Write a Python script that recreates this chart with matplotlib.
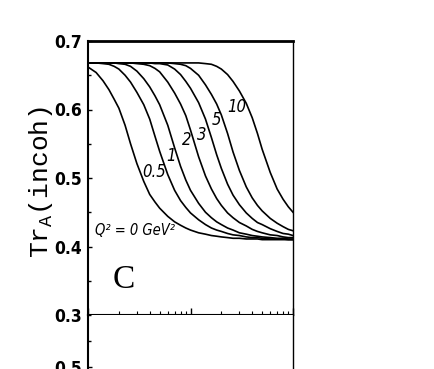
import matplotlib
matplotlib.use("Agg")
import matplotlib.pyplot as plt
from matplotlib.ticker import MultipleLocator, LogLocator, NullFormatter

# Shared abscissa (log axis, two decades, axis itself is unlabelled in the crop)
X = [1, 1.2, 1.4, 1.6, 1.8, 2, 2.3, 2.6, 3, 3.5, 4, 4.5, 5, 6, 7, 8, 9, 10,
     12, 14, 16, 18, 20, 23, 26, 30, 35, 40, 45, 50, 60, 70, 80, 90, 100]

# Tr_A(incoh), one list per Q^2 value
TR_Q0 = [0.662, 0.654, 0.642, 0.629, 0.615, 0.602, 0.577, 0.550, 0.521, 0.495,
         0.476, 0.465, 0.456, 0.444, 0.436, 0.431, 0.427, 0.424, 0.420, 0.418,
         0.416, 0.415, 0.414, 0.413, 0.412, 0.412, 0.411, 0.411, 0.411, 0.410,
         0.410, 0.410, 0.410, 0.410, 0.410]
TR_Q05 = [0.668, 0.668, 0.667, 0.666, 0.663, 0.659, 0.650, 0.640, 0.625, 0.607,
          0.586, 0.561, 0.539, 0.505, 0.482, 0.467, 0.457, 0.449, 0.439, 0.432,
          0.427, 0.424, 0.422, 0.419, 0.417, 0.416, 0.414, 0.413, 0.413, 0.412,
          0.411, 0.411, 0.411, 0.410, 0.410]
TR_Q1 = [0.668, 0.668, 0.668, 0.668, 0.668, 0.667, 0.666, 0.663, 0.656, 0.645,
         0.633, 0.620, 0.607, 0.577, 0.544, 0.517, 0.497, 0.482, 0.463, 0.450,
         0.442, 0.436, 0.432, 0.427, 0.424, 0.420, 0.418, 0.416, 0.415, 0.414,
         0.413, 0.412, 0.412, 0.411, 0.411]
TR_Q2 = [0.668, 0.668, 0.668, 0.668, 0.668, 0.668, 0.668, 0.668, 0.667, 0.666,
         0.664, 0.660, 0.655, 0.640, 0.624, 0.608, 0.591, 0.570, 0.531, 0.503,
         0.484, 0.470, 0.460, 0.449, 0.442, 0.435, 0.430, 0.425, 0.422, 0.420,
         0.417, 0.416, 0.414, 0.413, 0.413]
TR_Q3 = [0.668, 0.668, 0.668, 0.668, 0.668, 0.668, 0.668, 0.668, 0.668, 0.668,
         0.668, 0.667, 0.667, 0.665, 0.659, 0.651, 0.641, 0.631, 0.610, 0.586,
         0.559, 0.534, 0.514, 0.491, 0.475, 0.461, 0.449, 0.441, 0.435, 0.432,
         0.426, 0.422, 0.419, 0.418, 0.416]
TR_Q5 = [0.668, 0.668, 0.668, 0.668, 0.668, 0.668, 0.668, 0.668, 0.668, 0.668,
         0.668, 0.668, 0.668, 0.668, 0.667, 0.666, 0.664, 0.660, 0.650, 0.636,
         0.622, 0.608, 0.592, 0.565, 0.538, 0.511, 0.487, 0.471, 0.460, 0.452,
         0.441, 0.434, 0.429, 0.425, 0.423]
TR_Q10 = [0.668, 0.668, 0.668, 0.668, 0.668, 0.668, 0.668, 0.668, 0.668, 0.668,
          0.668, 0.668, 0.668, 0.668, 0.668, 0.668, 0.668, 0.668, 0.668, 0.667,
          0.666, 0.663, 0.659, 0.651, 0.641, 0.627, 0.609, 0.588, 0.565, 0.542,
          0.508, 0.484, 0.469, 0.458, 0.450]

YTICKS = [0.3, 0.4, 0.5, 0.6, 0.7]
YTICK_LABELS = ["0.3", "0.4", "0.5", "0.6", "0.7"]

plt.rcParams.update({
    "font.family": "DejaVu Sans",
    "font.stretch": "condensed",
    "mathtext.fontset": "custom",
    "mathtext.rm": "Liberation Mono",
    "xtick.direction": "in",
    "ytick.direction": "in",
})

fig = plt.figure(figsize=(4.34, 3.69), dpi=100)
W, H = 434, 369
ax = fig.add_axes([88 / W, 54 / H, 205 / W, 274 / H])
# next panel below, mostly outside the crop
ax2 = fig.add_axes([88 / W, (54 - 260) / H, 205 / W, 260 / H])

for ys in [TR_Q0, TR_Q05, TR_Q1, TR_Q2, TR_Q3, TR_Q5, TR_Q10]:
    ax.plot(X, ys, color="black", lw=1.2, solid_joinstyle="round")

ax.set_xscale("log")
ax.set_xlim(1, 100)
ax.set_ylim(0.3, 0.7)
ax.set_yticks(YTICKS, YTICK_LABELS, fontweight="bold", fontsize=12.5,
              fontstretch="condensed")
ax.yaxis.set_minor_locator(MultipleLocator(0.05))
ax.xaxis.set_major_locator(LogLocator(base=10))
ax.xaxis.set_minor_locator(LogLocator(base=10, subs=range(2, 10)))
ax.xaxis.set_major_formatter(NullFormatter())
ax.xaxis.set_minor_formatter(NullFormatter())
ax.tick_params(axis="y", which="major", length=3, width=1, pad=4)
ax.tick_params(axis="y", which="minor", length=2.5, width=1)
ax.tick_params(axis="x", which="major", length=5, width=1)
ax.tick_params(axis="x", which="minor", length=3, width=0.8)
ax.spines["top"].set_linewidth(2.0)
ax.spines["left"].set_linewidth(1.5)
ax.spines["bottom"].set_linewidth(1.5)
ax.spines["right"].set_linewidth(1.0)

ax.set_ylabel(r"Tr$_\mathrm{A}$(incoh)", family="Liberation Mono",
              fontsize=19)
ax.yaxis.set_label_coords(-0.16, 0.485)

# curve labels
lab = dict(fontsize=12, fontstyle="italic", fontstretch="condensed",
           ha="center", va="center")
ax.text(28.0, 0.603, "10", **lab)
ax.text(17.9, 0.585, "5", **lab)
ax.text(12.9, 0.563, "3", **lab)
ax.text(9.1, 0.555, "2", **lab)
ax.text(6.5, 0.532, "1", **lab)
ax.text(4.45, 0.509, "0.5", **lab)
ax.text(1.16, 0.424, "Q² = 0 GeV²", fontsize=10.5, fontstyle="italic",
        fontstretch="condensed", ha="left", va="center")
ax.text(2.24, 0.352, "C", family="Liberation Serif", fontsize=24,
        ha="center", va="center")

ax2.set_xscale("log")
ax2.set_xlim(1, 100)
ax2.set_ylim(0.1, 0.6)
ax2.set_yticks([0.5], ["0.5"], fontweight="bold", fontsize=12.5,
               fontstretch="condensed")
ax2.yaxis.set_minor_locator(MultipleLocator(0.05))
ax2.tick_params(axis="y", which="major", length=3, width=1, pad=4)
ax2.tick_params(axis="y", which="minor", length=2.5, width=1)
ax2.tick_params(axis="x", which="both", bottom=False, labelbottom=False)
ax2.spines["top"].set_visible(False)
ax2.spines["left"].set_linewidth(1.5)
ax2.spines["right"].set_linewidth(1.0)

fig.savefig("out.png", dpi=100)
